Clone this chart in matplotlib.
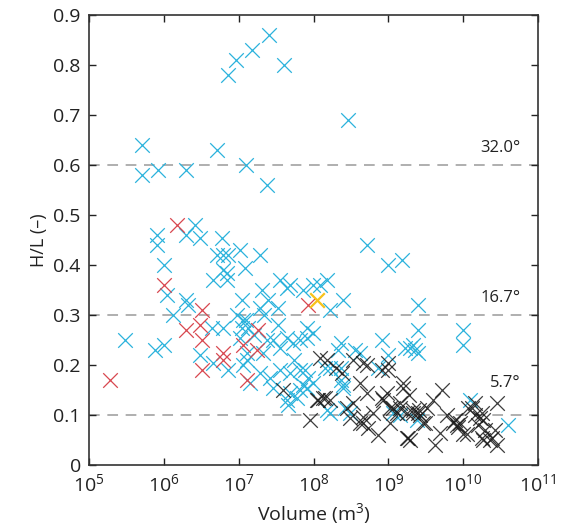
"""H/L ratio against volume, scatter with reference angle lines."""

import matplotlib
matplotlib.use("Agg")
import matplotlib.pyplot as plt

plt.rcParams["font.family"] = ["Open Sans", "DejaVu Sans"]
plt.rcParams["mathtext.fontset"] = "custom"
plt.rcParams["mathtext.rm"] = "Open Sans"
plt.rcParams["mathtext.default"] = "regular"

# cyan group
cyan_vol = [
    2.5e7, 1.5e7, 9.2e6, 7.2e6, 4.0e7, 5.1e5, 5.1e5, 8.4e5, 2.0e6, 5.1e6,
    1.26e7, 2.4e7, 2.9e8, 2.6e6, 8.1e5, 2.0e6, 3.0e6, 6.0e6, 3.0e5, 8.1e5,
    1.0e6, 1.1e6, 1.33e6, 7.6e5, 1.0e6, 2.0e6, 2.1e6, 3.0e6, 4.4e6, 6.2e6,
    4.5e6, 7.2e6, 5.1e6, 6.2e6, 7.2e6, 6.2e6, 7.0e6, 4.5e6, 7.0e6, 1.04e7,
    1.22e7, 1.93e7, 1.1e7, 1.15e7, 1.25e7, 1.1e7, 1.34e7, 1.04e7, 1.3e7, 1.42e7,
    2.05e7, 1.93e7, 2.47e7, 3.3e7, 3.6e7, 4.4e7, 4.9e7, 7.3e7, 9.9e7, 2.4e7,
    2.9e7, 2.1e7, 3.6e7, 4.4e7, 5.3e7, 6.6e7, 8.2e7, 9.9e7, 1.93e7, 2.6e7,
    3.6e7, 4.9e7, 6.6e7, 8.5e7, 9.9e7, 2.9e7, 4.9e7, 6.0e7, 4.4e7, 4.6e7,
    6.6e7, 8.2e7, 5.2e8, 9.9e8, 1.53e9, 1.52e8, 1.22e8, 2.5e8, 1.67e8, 2.5e9,
    2.5e9, 1.0e10, 1.0e10, 8.3e8, 1.68e9, 2.15e9, 2.5e9, 4.2e8, 2.3e8, 2.1e8,
    8.2e7, 1.43e8, 2.3e8, 2.5e8, 7.7e7, 7.3e7, 1.67e8, 3.1e8, 1.24e10, 4.0e10,
    7.3e8, 9.9e8, 1.16e9, 1.44e9, 2.4e9, 1.95e9, 2.3e9, 3.6e8, 1.67e8, 2.3e8,
    2.5e8, 2.6e8, 1.52e8, 1.3e7, 1.6e7, 9.5e6, 2.2e7, 5.5e7, 1.15e7, 3.3e7,
]
cyan_hl = [
    0.86, 0.83, 0.81, 0.78, 0.80, 0.64, 0.58, 0.59, 0.59, 0.63,
    0.60, 0.56, 0.69, 0.48, 0.46, 0.46, 0.455, 0.455, 0.25, 0.44,
    0.40, 0.34, 0.30, 0.23, 0.24, 0.33, 0.32, 0.22, 0.275, 0.275,
    0.205, 0.19, 0.42, 0.42, 0.42, 0.39, 0.385, 0.37, 0.37, 0.43,
    0.395, 0.42, 0.33, 0.29, 0.29, 0.275, 0.275, 0.255, 0.225, 0.165,
    0.35, 0.315, 0.33, 0.315, 0.37, 0.355, 0.36, 0.35, 0.36, 0.25,
    0.25, 0.225, 0.235, 0.255, 0.245, 0.25, 0.275, 0.265, 0.185, 0.175,
    0.19, 0.185, 0.19, 0.175, 0.165, 0.155, 0.145, 0.135, 0.13, 0.12,
    0.15, 0.155, 0.44, 0.40, 0.41, 0.37, 0.36, 0.33, 0.31, 0.32,
    0.27, 0.27, 0.24, 0.25, 0.235, 0.24, 0.225, 0.225, 0.245, 0.23,
    0.255, 0.195, 0.195, 0.16, 0.19, 0.16, 0.105, 0.105, 0.13, 0.08,
    0.195, 0.22, 0.105, 0.10, 0.09, 0.235, 0.23, 0.23, 0.195, 0.17,
    0.155, 0.115, 0.11, 0.21, 0.26, 0.30, 0.30, 0.21, 0.20, 0.28,
]

# red group
red_vol = [1.9e5, 1.5e6, 1.0e6, 2.0e6, 3.2e6, 3.0e6, 3.2e6, 3.2e6, 6.2e6, 6.2e6,
           1.15e7, 1.3e7, 1.82e7, 1.76e7, 8.5e7]
red_hl = [0.17, 0.48, 0.36, 0.27, 0.31, 0.28, 0.25, 0.19, 0.225, 0.21,
          0.24, 0.17, 0.27, 0.23, 0.32]

# yellow group
yellow_vol = [1.1e8]
yellow_hl = [0.33]

# black group
black_vol = [
    3.9e7, 1.12e8, 9.0e7, 1.52e8, 1.22e8, 2.4e8, 5.2e8, 9.9e8, 8.3e8, 4.2e8,
    5.2e8, 1.58e9, 1.58e9, 1.43e8, 1.15e8, 2.8e8, 3.4e8, 3.1e8, 4.2e8, 5.4e8,
    7.3e8, 6.3e8, 8.5e8, 9.6e8, 1.06e9, 1.44e9, 1.78e9, 2.15e9, 2.5e9, 1.84e9,
    1.95e9, 3.1e9, 4.0e9, 5.2e9, 4.2e9, 6.1e9, 7.3e9, 8.3e9, 9.1e9, 1.0e10,
    1.17e10, 1.45e10, 1.8e10, 1.7e10, 1.97e10, 2.85e10, 2.44e10, 2.85e10, 1.8e10, 1.3e9,
    2.65e9, 2.9e9, 4.9e9, 7.8e9, 8.6e9, 1.13e10, 1.32e10, 1.45e10, 1.85e10, 1.59e10,
    1.85e10, 2.3e10, 2.68e10, 3.3e9, 2.0e8, 1.34e8, 1.67e8, 3.4e8, 4.6e8, 9.9e8,
    4.6e8, 4.6e8, 1.06e9, 1.78e9, 8.3e8, 1.17e9, 1.44e9, 2.15e9, 2.6e9, 1.9e9,
]
black_hl = [
    0.15, 0.13, 0.09, 0.21, 0.215, 0.185, 0.20, 0.205, 0.19, 0.165,
    0.145, 0.165, 0.155, 0.135, 0.13, 0.115, 0.125, 0.095, 0.085, 0.075,
    0.06, 0.105, 0.13, 0.145, 0.115, 0.125, 0.105, 0.105, 0.105, 0.055,
    0.05, 0.085, 0.13, 0.15, 0.04, 0.10, 0.085, 0.08, 0.085, 0.063,
    0.115, 0.125, 0.105, 0.095, 0.07, 0.125, 0.055, 0.04, 0.055, 0.105,
    0.10, 0.085, 0.065, 0.09, 0.077, 0.063, 0.115, 0.10, 0.09, 0.08,
    0.05, 0.05, 0.07, 0.115, 0.195, 0.135, 0.13, 0.21, 0.205, 0.19,
    0.097, 0.085, 0.085, 0.055, 0.135, 0.115, 0.115, 0.11, 0.11, 0.14,
]

# reference angles and their H/L value
angle_hl = [0.6, 0.3, 0.1]
angle_labels = ["32.0°", "16.7°", "5.7°"]
angle_text_y = [0.634, 0.334, 0.164]

fig = plt.figure(figsize=(5.68, 5.31), dpi=100)
ax = fig.add_axes([0.157, 0.124, 0.79, 0.848])

for yv in angle_hl:
    ax.axhline(yv, color="#9a9a9a", lw=1.1, dashes=(7, 5), zorder=1)

mk = dict(marker="x", s=110, zorder=2)
ax.scatter(cyan_vol, cyan_hl, color="#2bb3dc", linewidths=0.9, **mk)
ax.scatter(red_vol, red_hl, color="#d8474f", linewidths=0.9, **mk)
ax.scatter(black_vol, black_hl, color="#1a1a1a", alpha=0.85, linewidths=0.9, **mk)
mk["zorder"] = 3
ax.scatter(yellow_vol, yellow_hl, color="#f7c21c", linewidths=1.6, **mk)

for lab, ty in zip(angle_labels, angle_text_y):
    ax.text(0.962, ty, lab, transform=ax.get_yaxis_transform(),
            ha="right", va="center", fontsize=12, color="#222222")

ax.set_xscale("log")
ax.set_xlim(1e5, 1e11)
ax.set_ylim(0, 0.9)
ax.set_xticks([10.0 ** k for k in range(5, 12)])
ax.set_xticklabels([f"$10^{{{k}}}$" for k in range(5, 12)])
ax.minorticks_off()
ax.set_yticks([i / 10 for i in range(10)])
ax.set_yticklabels(["0"] + [f"{i / 10:.1f}" for i in range(1, 10)])

ax.tick_params(direction="in", top=True, right=True, length=5, width=1,
               labelsize=14, colors="#222222", pad=6)
for sp in ax.spines.values():
    sp.set_linewidth(1.2)
    sp.set_color("#333333")

ax.set_xlabel("Volume (m$^3$)", fontsize=14, color="#222222")
ax.set_ylabel("H/L (–)", fontsize=13, color="#222222")

fig.savefig("out.png", dpi=100, facecolor="white")
